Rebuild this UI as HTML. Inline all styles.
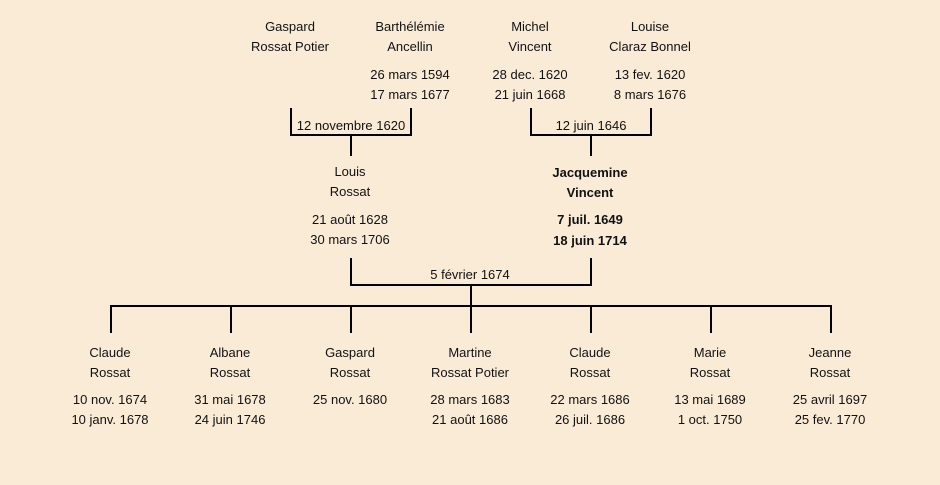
<!DOCTYPE html>
<html>
<head>
<meta charset="utf-8">
<style>
  html, body { margin:0; padding:0; }
  body { width:940px; height:485px; background:#faebd7; position:relative; overflow:hidden;
         font-family:"Liberation Sans", "DejaVu Sans", sans-serif; font-size:13px; color:#111; }
  .t { position:absolute; width:200px; text-align:center; line-height:20px; height:20px; white-space:nowrap; }
  .b { font-weight:bold; }
  svg { position:absolute; left:0; top:0; }
</style>
</head>
<body>
<svg width="940" height="485" viewBox="0 0 940 485">
  <g stroke="#000" stroke-width="2" fill="none" stroke-linecap="butt">
    <!-- top left bracket -->
    <polyline points="291,108 291,135 411,135 411,108"/>
    <line x1="351" y1="135" x2="351" y2="156"/>
    <!-- top right bracket -->
    <polyline points="531,108 531,135 651,135 651,108"/>
    <line x1="591" y1="135" x2="591" y2="156"/>
    <!-- marriage bracket -->
    <polyline points="351,258 351,285 591,285 591,258"/>
    <line x1="471" y1="285" x2="471" y2="306"/>
    <!-- children bar -->
    <line x1="110" y1="306" x2="832" y2="306"/>
    <line x1="111" y1="306" x2="111" y2="333"/>
    <line x1="231" y1="306" x2="231" y2="333"/>
    <line x1="351" y1="306" x2="351" y2="333"/>
    <line x1="471" y1="306" x2="471" y2="333"/>
    <line x1="591" y1="306" x2="591" y2="333"/>
    <line x1="711" y1="306" x2="711" y2="333"/>
    <line x1="831" y1="306" x2="831" y2="333"/>
  </g>
</svg>

<!-- Grandparents -->
<div class="t" style="left:190px;top:17px">Gaspard</div>
<div class="t" style="left:190px;top:37px">Rossat Potier</div>

<div class="t" style="left:310px;top:17px">Barthélémie</div>
<div class="t" style="left:310px;top:37px">Ancellin</div>
<div class="t" style="left:310px;top:65px">26 mars 1594</div>
<div class="t" style="left:310px;top:85px">17 mars 1677</div>

<div class="t" style="left:430px;top:17px">Michel</div>
<div class="t" style="left:430px;top:37px">Vincent</div>
<div class="t" style="left:430px;top:65px">28 dec. 1620</div>
<div class="t" style="left:430px;top:85px">21 juin 1668</div>

<div class="t" style="left:550px;top:17px">Louise</div>
<div class="t" style="left:550px;top:37px">Claraz Bonnel</div>
<div class="t" style="left:550px;top:65px">13 fev. 1620</div>
<div class="t" style="left:550px;top:85px">8 mars 1676</div>

<div class="t" style="left:251px;top:116px">12 novembre 1620</div>
<div class="t" style="left:491px;top:116px">12 juin 1646</div>

<!-- Parents -->
<div class="t" style="left:250px;top:162px">Louis</div>
<div class="t" style="left:250px;top:182px">Rossat</div>
<div class="t" style="left:250px;top:210px">21 août 1628</div>
<div class="t" style="left:250px;top:230px">30 mars 1706</div>

<div class="t b" style="left:490px;top:163px">Jacquemine</div>
<div class="t b" style="left:490px;top:183px">Vincent</div>
<div class="t b" style="left:490px;top:210px">7 juil. 1649</div>
<div class="t b" style="left:490px;top:231px">18 juin 1714</div>

<div class="t" style="left:370px;top:265px">5 février 1674</div>

<!-- Children -->
<div class="t" style="left:10px;top:343px">Claude</div>
<div class="t" style="left:10px;top:363px">Rossat</div>
<div class="t" style="left:10px;top:390px">10 nov. 1674</div>
<div class="t" style="left:10px;top:410px">10 janv. 1678</div>

<div class="t" style="left:130px;top:343px">Albane</div>
<div class="t" style="left:130px;top:363px">Rossat</div>
<div class="t" style="left:130px;top:390px">31 mai 1678</div>
<div class="t" style="left:130px;top:410px">24 juin 1746</div>

<div class="t" style="left:250px;top:343px">Gaspard</div>
<div class="t" style="left:250px;top:363px">Rossat</div>
<div class="t" style="left:250px;top:390px">25 nov. 1680</div>

<div class="t" style="left:370px;top:343px">Martine</div>
<div class="t" style="left:370px;top:363px">Rossat Potier</div>
<div class="t" style="left:370px;top:390px">28 mars 1683</div>
<div class="t" style="left:370px;top:410px">21 août 1686</div>

<div class="t" style="left:490px;top:343px">Claude</div>
<div class="t" style="left:490px;top:363px">Rossat</div>
<div class="t" style="left:490px;top:390px">22 mars 1686</div>
<div class="t" style="left:490px;top:410px">26 juil. 1686</div>

<div class="t" style="left:610px;top:343px">Marie</div>
<div class="t" style="left:610px;top:363px">Rossat</div>
<div class="t" style="left:610px;top:390px">13 mai 1689</div>
<div class="t" style="left:610px;top:410px">1 oct. 1750</div>

<div class="t" style="left:730px;top:343px">Jeanne</div>
<div class="t" style="left:730px;top:363px">Rossat</div>
<div class="t" style="left:730px;top:390px">25 avril 1697</div>
<div class="t" style="left:730px;top:410px">25 fev. 1770</div>
</body>
</html>
